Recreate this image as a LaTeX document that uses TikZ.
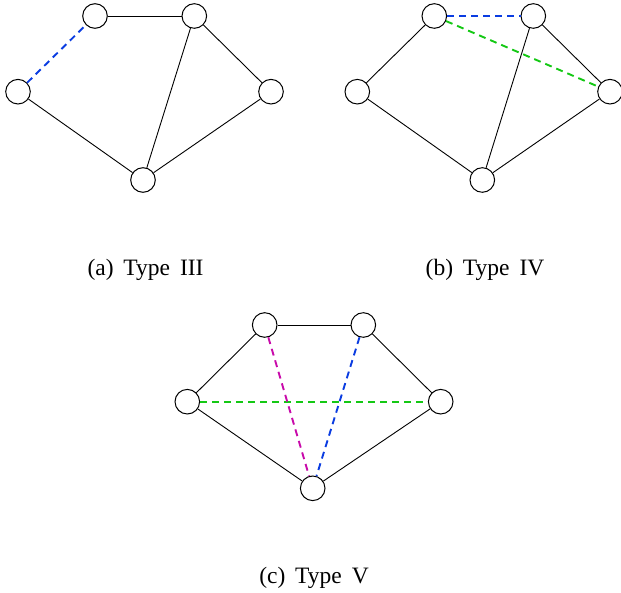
\documentclass[tikz,border=0pt]{standalone}
\usepackage{fontspec}
\setmainfont{Liberation Serif}
\definecolor{eblue}{RGB}{10,60,225}
\definecolor{egreen}{RGB}{20,200,20}
\definecolor{emag}{RGB}{200,10,170}
\newcommand{\wsp}{\hspace{0.42em}}
\begin{document}
\begin{tikzpicture}[x=1pt,y=-1pt,
  vtx/.style={circle,draw,line width=1pt,minimum size=24.6pt,inner sep=0pt,fill=white},
  edge/.style={line width=0.9pt},
  dedge/.style={line width=1.9pt,dash pattern=on 7pt off 5pt},
  captext/.style={anchor=base,font=\fontsize{23.5}{28}\selectfont}]
\useasboundingbox (0,0) rectangle (621,593);
% (a)
\node[vtx] (a1) at (95,16) {};
\node[vtx] (a2) at (194.3,16) {};
\node[vtx] (a3) at (18,91.7) {};
\node[vtx] (a4) at (271,91.7) {};
\node[vtx] (a5) at (143,180) {};
\draw[edge] (a1) -- (a2);
\draw[edge] (a2) -- (a4);
\draw[edge] (a2) -- (a5);
\draw[edge] (a4) -- (a5);
\draw[edge] (a3) -- (a5);
\draw[dedge,eblue] (a3) -- (a1);
% (b)
\node[vtx] (b1) at (434.3,16) {};
\node[vtx] (b2) at (533.3,16) {};
\node[vtx] (b3) at (357.3,91.7) {};
\node[vtx] (b4) at (610,91.7) {};
\node[vtx] (b5) at (482.3,180) {};
\draw[edge] (b3) -- (b1);
\draw[edge] (b3) -- (b5);
\draw[edge] (b2) -- (b5);
\draw[edge] (b2) -- (b4);
\draw[edge] (b4) -- (b5);
\draw[dedge,eblue] (b1) -- (b2);
\draw[dedge,egreen] (b1) -- (b4);
% (c)
\node[vtx] (c1) at (264.7,325) {};
\node[vtx] (c2) at (363.3,325) {};
\node[vtx] (c3) at (187.3,401.7) {};
\node[vtx] (c4) at (440.7,401.7) {};
\node[vtx] (c5) at (312.7,488.3) {};
\draw[edge] (c1) -- (c2);
\draw[edge] (c3) -- (c1);
\draw[edge] (c2) -- (c4);
\draw[edge] (c3) -- (c5);
\draw[edge] (c4) -- (c5);
\draw[dedge,egreen] (c3) -- (c4);
\draw[dedge,emag] (c1) -- (c5);
\draw[dedge,eblue] (c2) -- (c5);
% captions
\node[captext] (la) at (145.5,276) {(a)\wsp Type\wsp III};
\node[captext] (lb) at (485,276) {(b)\wsp Type\wsp IV};
\node[captext] (lc) at (314,583) {(c)\wsp Type\wsp V};
\end{tikzpicture}
\end{document}
